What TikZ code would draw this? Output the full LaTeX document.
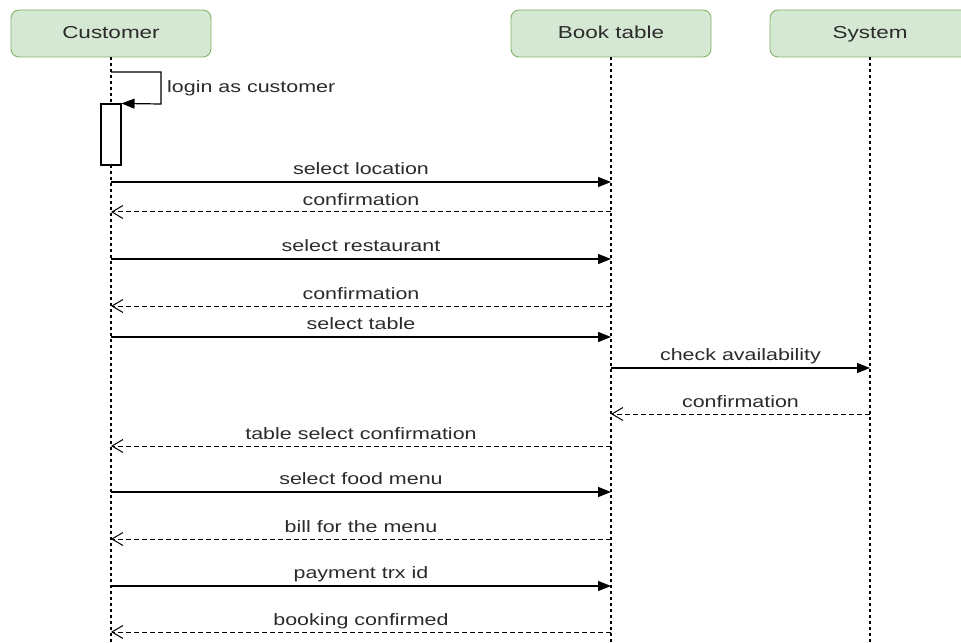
\documentclass[tikz,border=0pt]{standalone}
\usepackage{fontspec}
\setmainfont[FakeStretch=1.3]{Liberation Sans}
\usetikzlibrary{arrows.meta}
\definecolor{boxfill}{HTML}{D5E8D4}
\definecolor{boxline}{HTML}{82B366}
\definecolor{txt}{HTML}{2B2B2B}
\tikzset{
  actor/.style={draw=boxline, fill=boxfill, rounded corners=8bp, minimum width=200bp, minimum height=47bp, inner sep=0pt, line width=0.9bp, text=txt, font=\fontsize{17.3bp}{19bp}\selectfont, text height=1.0em, text depth=0pt},
  lifeline/.style={line width=1.3bp, dash pattern=on 3bp off 3bp, black},
  msg/.style={line width=1.2bp, -{Triangle[length=13bp,width=10bp]}},
  ret/.style={line width=1bp, dash pattern=on 5bp off 3bp, -{Straight Barb[length=11bp,width=13bp,line width=1bp]}},
  lbl/.style={text=txt, font=\fontsize{16.5bp}{18bp}\selectfont, inner sep=0pt, anchor=south, text height=0.72em, text depth=0.2em},
  actbox/.style={draw, fill=white, line width=1.1bp, minimum width=20bp, minimum height=61bp, inner sep=0pt}
}
\begin{document}
\begin{tikzpicture}[x=1bp,y=-1bp]
\useasboundingbox (0,0) rectangle (961,643);
\clip (0,0) rectangle (961,643);
\fill[white] (0,0) rectangle (961,643);
% actors
\node[actor] (cust) at (111,33.5) {Customer};
\node[actor] (book) at (611,33.5) {Book table};
\node[actor] (sys) at (870,33.5) {System};
% lifeline ends
\coordinate (custend) at (111,643);
\coordinate (bookend) at (611,643);
\coordinate (sysend) at (870,643);
\draw[lifeline] (cust.south) -- (custend);
\draw[lifeline] (book.south) -- (bookend);
\draw[lifeline] (sys.south) -- (sysend);
% activation
\node[actbox] (act) at (111,134.5) {};
% self message
\draw[msg] (cust.south |- 0,72) -- (161,72) -- (161,104) -- (act.north east);
\node[lbl, anchor=west] (llogin) at (167,90) {login as customer};
% messages
\draw[msg] (cust.south |- 0,182) -- node[lbl, above=4.5bp] {select location} (book.south |- 0,182);
\draw[ret] (book.south |- 0,212) -- node[lbl, above=4.5bp] {confirmation} (cust.south |- 0,212);
\draw[msg] (cust.south |- 0,259) -- node[lbl, above=4.5bp] {select restaurant} (book.south |- 0,259);
\draw[ret] (book.south |- 0,306) -- node[lbl, above=4.5bp] {confirmation} (cust.south |- 0,306);
\draw[msg] (cust.south |- 0,337) -- node[lbl, above=4.5bp] {select table} (book.south |- 0,337);
\draw[msg] (book.south |- 0,368) -- node[lbl, above=4.5bp] {check availability} (sys.south |- 0,368);
\draw[ret] (sys.south |- 0,414) -- node[lbl, above=4.5bp] {confirmation} (book.south |- 0,414);
\draw[ret] (book.south |- 0,446) -- node[lbl, above=4.5bp] {table select confirmation} (cust.south |- 0,446);
\draw[msg] (cust.south |- 0,492) -- node[lbl, above=4.5bp] {select food menu} (book.south |- 0,492);
\draw[ret] (book.south |- 0,539) -- node[lbl, above=4.5bp] {bill for the menu} (cust.south |- 0,539);
\draw[msg] (cust.south |- 0,586) -- node[lbl, above=4.5bp] {payment trx id} (book.south |- 0,586);
\draw[ret] (book.south |- 0,632) -- node[lbl, above=4.5bp] {booking confirmed} (cust.south |- 0,632);
\end{tikzpicture}
\end{document}
